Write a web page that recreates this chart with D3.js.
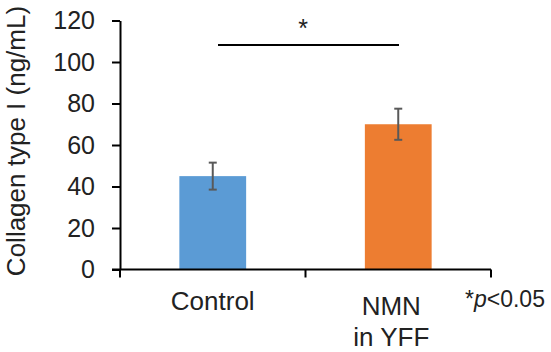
<!DOCTYPE html>
<html>
<head>
<script src="https://d3js.org/d3.v7.min.js"></script>
<style>
  body { margin: 0; background: white; }
  text { font-family: "Liberation Sans", Arial, sans-serif; fill: #222; }
</style>
</head>
<body>
<script>
// data
var categories = ["Control", "NMN\nin YFF"];
var means = [45, 70];
var errors = [6.5, 7.5];
var yTicks = [0, 20, 40, 60, 80, 100, 120];
var colors = ["#5b9bd5", "#ed7d31"];

var width = 551, height = 352;
var mLeft = 120, mRight = 491, mTop = 20.5, mBottom = 269.5;

var svg = d3.select("body").append("svg")
  .attr("width", width)
  .attr("height", height);

var x = d3.scaleBand().domain(categories).range([mLeft, mRight]);
var y = d3.scaleLinear().domain([0, 120]).range([mBottom, mTop]);

// bars
svg.selectAll("rect.bar")
  .data(categories)
  .enter()
  .append("rect")
  .attr("class", "bar")
  .attr("x", function(d){ return x(d) + x.bandwidth() * 0.32; })
  .attr("width", x.bandwidth() * 0.36)
  .attr("y", function(d, i){ return y(means[i]); })
  .attr("height", function(d, i){ return y(0) - y(means[i]); })
  .attr("fill", function(d, i){ return colors[i]; });

// error bars
var eb = svg.append("g").attr("stroke", "#595959").attr("stroke-width", 2);
categories.forEach(function(c, i){
  var cx = x(c) + x.bandwidth() / 2;
  eb.append("line").attr("x1", cx).attr("x2", cx)
    .attr("y1", y(means[i] + errors[i])).attr("y2", y(means[i] - errors[i]));
  eb.append("line").attr("x1", cx - 4).attr("x2", cx + 4)
    .attr("y1", y(means[i] + errors[i])).attr("y2", y(means[i] + errors[i]));
  eb.append("line").attr("x1", cx - 4).attr("x2", cx + 4)
    .attr("y1", y(means[i] - errors[i])).attr("y2", y(means[i] - errors[i]));
});

// y axis
var yAxis = svg.append("g")
  .attr("transform", "translate(" + mLeft + ",0)")
  .call(d3.axisLeft(y).tickValues(yTicks).tickSize(8).tickPadding(17).tickSizeOuter(0));
yAxis.select(".domain").attr("stroke", "#000").attr("stroke-width", 2);
yAxis.selectAll(".tick line").attr("stroke", "#000").attr("stroke-width", 2);
yAxis.selectAll(".tick text")
  .style("font-size", "25px")
  .style("font-family", "Liberation Sans, Arial, sans-serif")
  .attr("fill", "#222");

// x axis
svg.append("line")
  .attr("x1", mLeft - 8).attr("x2", mRight)
  .attr("y1", y(0)).attr("y2", y(0))
  .attr("stroke", "#000").attr("stroke-width", 2);
var bounds = [mLeft, x(categories[1]), mRight];
svg.selectAll("line.xtick")
  .data(bounds)
  .enter()
  .append("line")
  .attr("class", "xtick")
  .attr("x1", function(d){ return d; }).attr("x2", function(d){ return d; })
  .attr("y1", y(0)).attr("y2", y(0) + 8)
  .attr("stroke", "#000").attr("stroke-width", 2);

// category labels
categories.forEach(function(c, i){
  var lines = c.split("\n");
  var cx = x(c) + x.bandwidth() / 2 + (i === 0 ? 0 : -7);
  var t = svg.append("text")
    .attr("text-anchor", "middle")
    .attr("x", cx)
    .attr("y", i === 0 ? 310 : 315)
    .style("font-size", "26px");
  lines.forEach(function(l, j){
    t.append("tspan")
      .attr("x", cx)
      .attr("dy", j === 0 ? 0 : 31)
      .text(l);
  });
});

// y label
svg.append("text")
  .attr("transform", "translate(25,141) rotate(-90)")
  .attr("text-anchor", "middle")
  .style("font-size", "26px")
  .text("Collagen type I (ng/mL)");

// significance
svg.append("line")
  .attr("x1", 218).attr("x2", 399)
  .attr("y1", 45).attr("y2", 45)
  .attr("stroke", "#000").attr("stroke-width", 2);
svg.append("text")
  .attr("x", 303).attr("y", 37)
  .attr("text-anchor", "middle")
  .style("font-size", "25px")
  .text("*");

// footnote
var fn = svg.append("text")
  .attr("x", 465).attr("y", 307)
  .style("font-size", "23px");
fn.append("tspan").text("*");
fn.append("tspan").style("font-style", "italic").text("p");
fn.append("tspan").text("<0.05");
</script>
</body>
</html>
